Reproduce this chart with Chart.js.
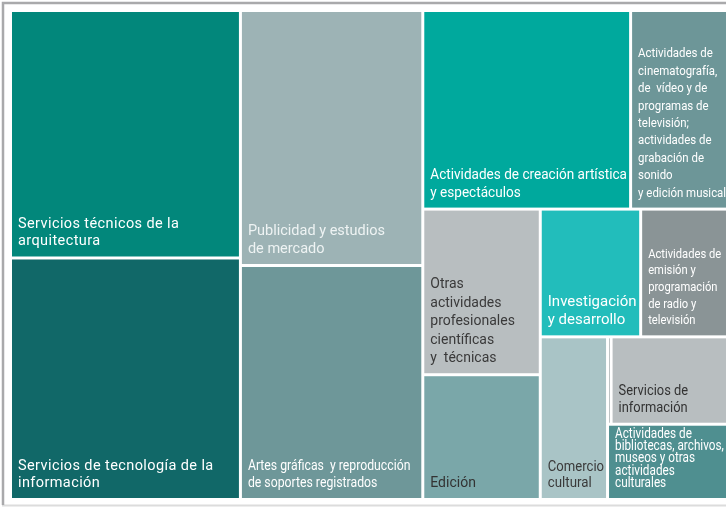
<!DOCTYPE html>
<html>
<head>
<meta charset="utf-8">
<script src="https://cdn.jsdelivr.net/npm/chart.js@4.4.0/dist/chart.umd.min.js"></script>
<style>
  html, body { margin: 0; padding: 0; background: #fff; overflow: hidden; }
  #wrap { width: 740px; height: 507px; position: relative; }
</style>
</head>
<body>
<div id="wrap"><canvas id="treemap"></canvas></div>
<script>
// -------------------------------
// DATA
// -------------------------------
const categories = [
    "Servicios técnicos de la arquitectura",
    "Servicios de tecnología de la información",
    "Publicidad y estudios de mercado",
    "Artes gráficas y reproducción de soportes registrados",
    "Actividades de creación artística y espectáculos",
    "Actividades de cinematografía, de vídeo y de programas de televisión; actividades de grabación de sonido y edición musical",
    "Otras actividades profesionales científicas y técnicas",
    "Edición",
    "Investigación y desarrollo",
    "Actividades de emisión y programación de radio y televisión",
    "Comercio cultural",
    "Otros",
    "Servicios de información",
    "Actividades de bibliotecas, archivos, museos y otras actividades culturales"
];

// size of each cell
const shares = [5679, 5542, 4641, 4259, 4119, 1970, 1942, 1463, 1280, 1139, 1092, 31, 1037, 920];

// label text, line by line as in the original
const labelLines = [
    ["Servicios técnicos de la", "arquitectura"],
    ["Servicios de tecnología de la", "información"],
    ["Publicidad y estudios", "de mercado"],
    ["Artes gráficas  y reproducción", "de soportes registrados"],
    ["Actividades de creación artística", "y espectáculos"],
    ["Actividades de", "cinematografía,", "de  vídeo y de", "programas de", "televisión;", "actividades de", "grabación de", "sonido", "y edición musical"],
    ["Otras", "actividades", "profesionales", "científicas", "y  técnicas"],
    ["Edición"],
    ["Investigación", "y desarrollo"],
    ["Actividades de", "emisión y", "programación", "de radio y", "televisión"],
    ["Comercio", "cultural"],
    [],
    ["Servicios de", "información"],
    ["Actividades de", "bibliotecas, archivos,", "museos y otras", "actividades", "culturales"]
];

// -------------------------------
// STYLES
// -------------------------------
const cellColors = ["#02877b", "#116868", "#9db3b5", "#6e9799", "#00a99d", "#6d9698", "#b8bec0",
                    "#7aa7a9", "#22bdbb", "#8a9496", "#a9c4c6", "#8a9496", "#b8bec0", "#4f8f90"];
const textColors = ["#ffffff", "#ffffff", "#eef3f3", "#ffffff", "#ffffff", "#ffffff", "#3a3a3a",
                    "#333333", "#ffffff", "#ffffff", "#3a3a3a", "#ffffff", "#333333", "#ffffff"];
const fontSizes = [14.5, 14.5, 14.5, 14, 14, 13, 14, 14, 15, 13, 14, 12, 14, 14];
const lineHeights = [17.5, 17.5, 18, 17, 18, 17.4, 18.5, 17, 18.5, 16.7, 15.7, 15, 16.5, 12.3];
const textStretch = [1, 1, 1, 0.875, 0.97, 0.88, 1, 1, 1, 0.86, 0.95, 1, 0.92, 0.84];
const letterSpacings = [0.4, 0.4, 0, 0, 0, 0, 0, 0, 0, 0, 0, 0, 0, 0];

const FONT = 'Roboto, "DejaVu Sans", sans-serif';
const GAP = 1.5;
const PAD_X = 6;
const PAD_BOTTOM = 11;

// -------------------------------
// SQUARIFIED LAYOUT (in chart-area units)
// -------------------------------
function worstRatio(values, thick, scale) {
    let worst = 0;
    values.forEach(v => {
        const len = v * scale / thick;
        worst = Math.max(worst, thick / len, len / thick);
    });
    return worst;
}

function squarify(values, x0, y0, x1, y1) {
    const rects = [];
    let remaining = values.reduce((a, b) => a + b, 0);
    const scale = (x1 - x0) * (y1 - y0) / remaining;
    let i0 = 0;
    while (i0 < values.length) {
        const dx = x1 - x0, dy = y1 - y0;
        const side = Math.min(dx, dy);
        let i1 = i0, sum = 0, best = Infinity;
        while (i1 < values.length) {
            const s = sum + values[i1];
            const r = worstRatio(values.slice(i0, i1 + 1), s * scale / side, scale);
            if (r > best) break;
            best = r; sum = s; i1++;
        }
        const thick = sum * scale / side;
        let off = 0;
        for (let i = i0; i < i1; i++) {
            const len = values[i] * scale / thick;
            if (dx >= dy) rects[i] = { x0: x0, y0: y0 + off, x1: x0 + thick, y1: y0 + off + len };
            else rects[i] = { x0: x0 + off, y0: y0, x1: x0 + off + len, y1: y0 + thick };
            off += len;
        }
        if (dx >= dy) x0 += thick; else y0 += thick;
        remaining -= sum;
        i0 = i1;
    }
    return rects;
}

// -------------------------------
// PLUGINS
// -------------------------------
const framePlugin = {
    id: "frame",
    beforeDraw(chart) {
        const ctx = chart.ctx;
        ctx.save();
        ctx.fillStyle = "#ffffff";
        ctx.fillRect(0, 0, chart.width, chart.height);
        ctx.strokeStyle = "#dcdcdc";
        ctx.lineWidth = 2;
        ctx.beginPath();
        ctx.moveTo(2, 505.5); ctx.lineTo(chart.width, 505.5);
        ctx.stroke();
        ctx.strokeStyle = "#a9a9ab";
        ctx.lineWidth = 2.5;
        ctx.beginPath();
        ctx.moveTo(3, 505); ctx.lineTo(3, 3); ctx.lineTo(chart.width, 3);
        ctx.stroke();
        ctx.restore();
    }
};

function drawLabel(ctx, i, left, right, bottom) {
    const lines = labelLines[i];
    if (!lines.length || right - left < 10) return;
    ctx.save();
    ctx.font = fontSizes[i] + "px " + FONT;
    ctx.letterSpacing = letterSpacings[i] + "px";
    ctx.fillStyle = textColors[i];
    ctx.textBaseline = "alphabetic";
    const x = left + PAD_X;
    let y = bottom - PAD_BOTTOM - (lines.length - 1) * lineHeights[i];
    lines.forEach(line => {
        const w = ctx.measureText(line).width * textStretch[i];
        ctx.fillText(line, x, y, Math.min(w, right - x - 2));
        y += lineHeights[i];
    });
    ctx.restore();
}

const treemapPlugin = {
    id: "treemap",
    beforeDatasetsDraw(chart) {
        const ctx = chart.ctx;
        const area = chart.chartArea;
        const tx = chart.scales.tx, ty = chart.scales.ty;
        const W = area.right - area.left, H = area.bottom - area.top;
        const values = chart.data.datasets[0].data;
        const colors = chart.data.datasets[0].backgroundColor;
        const rects = squarify(values, 0, 0, W, H);

        rects.forEach((r, i) => {
            const left = tx.getPixelForValue(r.x0 / W) + GAP;
            const right = tx.getPixelForValue(r.x1 / W) - GAP;
            const top = ty.getPixelForValue(r.y0 / H) + GAP;
            const bottom = ty.getPixelForValue(r.y1 / H) - GAP;
            if (right <= left || bottom <= top) return;
            ctx.fillStyle = colors[i];
            ctx.fillRect(left, top, right - left, bottom - top);
            drawLabel(ctx, i, left, right, bottom);
        });
        return false;
    }
};

// -------------------------------
// CHART
// -------------------------------
new Chart(document.getElementById("treemap"), {
    type: "bar",
    data: {
        labels: categories,
        datasets: [{ data: shares, backgroundColor: cellColors }]
    },
    options: {
        responsive: true,
        maintainAspectRatio: false,
        animation: false,
        layout: { padding: { left: 10.5, top: 10.5, right: 10, bottom: 7.5 } },
        plugins: { legend: { display: false }, tooltip: { enabled: false } },
        scales: {
            x: { display: false },
            y: { display: false },
            tx: { type: "linear", axis: "x", min: 0, max: 1, offset: false, display: false },
            ty: { type: "linear", axis: "y", min: 0, max: 1, offset: false, reverse: true, display: false }
        }
    },
    plugins: [framePlugin, treemapPlugin]
});
</script>
</body>
</html>
